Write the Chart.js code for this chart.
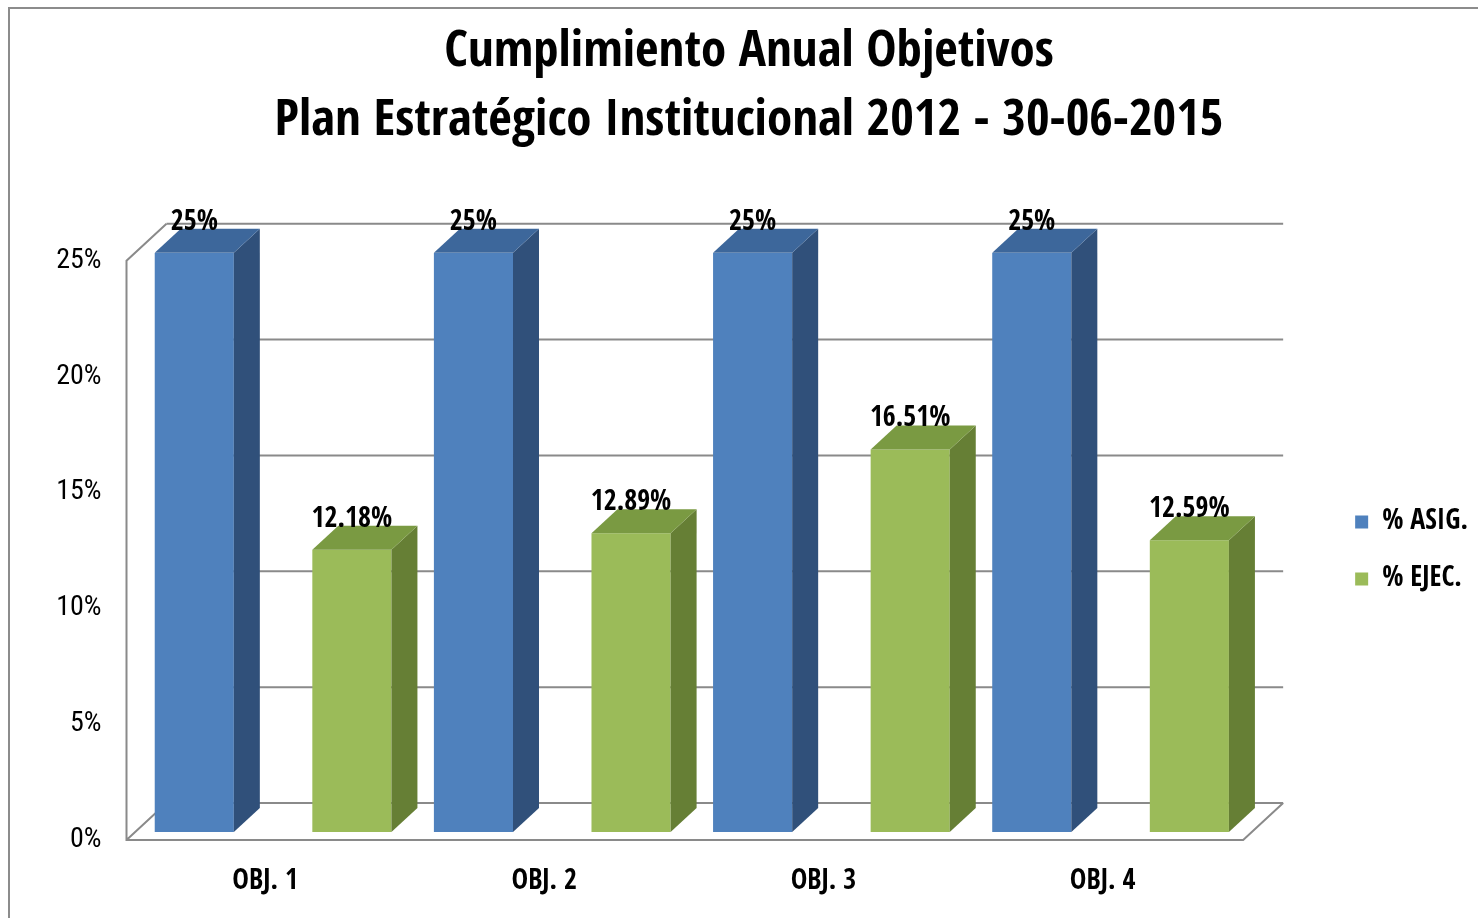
<!DOCTYPE html>
<html>
<head>
<meta charset="utf-8">
<script src="https://cdn.jsdelivr.net/npm/chart.js@4"></script>
<style>
  html, body { margin: 0; padding: 0; background: #fff; }
  #wrap { width: 1478px; height: 918px; }
</style>
</head>
<body>
<div id="wrap"><canvas id="chart" width="1478" height="918"></canvas></div>
<script>
const categories = ['OBJ. 1', 'OBJ. 2', 'OBJ. 3', 'OBJ. 4'];
const asigValues = [25, 25, 25, 25];
const ejecValues = [12.18, 12.89, 16.51, 12.59];
const yTicks = [0, 5, 10, 15, 20, 25];

const FONT = '"Open Sans Condensed", "Roboto Condensed", "Liberation Sans", sans-serif';
const TICK_FONT = '"Roboto Condensed", "Open Sans Condensed", "Liberation Sans", sans-serif';
const gridColor = '#8a8a8a';
// 3D depth of the bars and of the back wall / front plane
const barDepth = { dx: 26, dy: -24 };
const frontShift = { dx: -7, dy: 8 };
const backShift = { dx: 33, dy: -29 };

const faceColors = [
    { top: '#3d679b', side: '#30507a' },
    { top: '#7a9a42', side: '#667f35' }
];

function fmt(v) {
    return (Number.isInteger(v) ? v : v.toFixed(2)) + '%';
}

const threeD = {
    id: 'threeD',
    beforeDraw(chart) {
        const ctx = chart.ctx;
        ctx.save();
        ctx.strokeStyle = '#8c8c8c';
        ctx.lineWidth = 2;
        ctx.beginPath();
        ctx.moveTo(9, 918);
        ctx.lineTo(9, 8);
        ctx.lineTo(1478, 8);
        ctx.stroke();
        ctx.restore();
    },
    beforeDatasetsDraw(chart) {
        const ctx = chart.ctx;
        const y = chart.scales.y;
        const area = chart.chartArea;
        ctx.save();
        ctx.strokeStyle = gridColor;
        ctx.lineWidth = 2;
        // back wall gridlines
        yTicks.forEach(t => {
            const py = y.getPixelForValue(t) + backShift.dy;
            ctx.beginPath();
            ctx.moveTo(area.left + backShift.dx, py);
            ctx.lineTo(area.right + backShift.dx, py);
            ctx.stroke();
        });
        // front axis, floor and side edges
        const fx = area.left + frontShift.dx;
        const fTop = y.getPixelForValue(25) + frontShift.dy;
        const fBot = y.getPixelForValue(0) + frontShift.dy;
        const bx = area.left + backShift.dx;
        const bTop = y.getPixelForValue(25) + backShift.dy;
        const bBot = y.getPixelForValue(0) + backShift.dy;
        const rx = area.right + frontShift.dx;
        const rbx = area.right + backShift.dx;
        ctx.beginPath();
        ctx.moveTo(bx, bTop);
        ctx.lineTo(fx, fTop);
        ctx.lineTo(fx, fBot);
        ctx.lineTo(rx, fBot);
        ctx.lineTo(rbx, bBot);
        ctx.moveTo(fx, fBot);
        ctx.lineTo(bx, bBot);
        ctx.stroke();
        ctx.restore();
    },
    afterDatasetsDraw(chart) {
        const ctx = chart.ctx;
        ctx.save();
        chart.data.datasets.forEach((ds, di) => {
            const meta = chart.getDatasetMeta(di);
            meta.data.forEach((bar, i) => {
                const w = bar.width;
                const l = bar.x - w / 2, r = bar.x + w / 2;
                const t = bar.y, b = bar.base;
                const { dx, dy } = barDepth;
                ctx.fillStyle = faceColors[di].side;
                ctx.beginPath();
                ctx.moveTo(r, t);
                ctx.lineTo(r + dx, t + dy);
                ctx.lineTo(r + dx, b + dy);
                ctx.lineTo(r, b);
                ctx.closePath();
                ctx.fill();
                ctx.fillStyle = faceColors[di].top;
                ctx.beginPath();
                ctx.moveTo(l, t);
                ctx.lineTo(l + dx, t + dy);
                ctx.lineTo(r + dx, t + dy);
                ctx.lineTo(r, t);
                ctx.closePath();
                ctx.fill();
                ctx.fillStyle = '#000';
                ctx.font = 'bold 28px ' + FONT;
                ctx.textAlign = 'center';
                ctx.textBaseline = 'alphabetic';
                ctx.fillText(fmt(ds.data[i]), bar.x, t + dy + 1);
            });
        });
        ctx.restore();
    }
};

new Chart(document.getElementById('chart'), {
    type: 'bar',
    data: {
        labels: categories,
        datasets: [{
            label: '% ASIG.',
            data: asigValues,
            backgroundColor: '#4f81bd',
            borderWidth: 0
        }, {
            label: '% EJEC.',
            data: ejecValues,
            backgroundColor: '#9bbb59',
            borderWidth: 0
        }]
    },
    options: {
        responsive: false,
        animation: false,
        categoryPercentage: 1.129,
        barPercentage: 0.502,
        layout: { padding: { left: 20, right: 0, top: 0, bottom: 0 } },
        plugins: {
            title: {
                display: true,
                text: ['Cumplimiento Anual Objetivos', 'Plan Estratégico Institucional 2012 - 30-06-2015'],
                color: '#000',
                font: { family: FONT, size: 51, weight: 'bold', lineHeight: 1.34 },
                padding: { top: 19, bottom: 97 }
            },
            legend: {
                position: 'right',
                fullSize: false,
                title: { display: true, text: '', padding: 0, font: { size: 13.4 } },
                labels: {
                    boxWidth: 13,
                    boxHeight: 13,
                    padding: 29,
                    color: '#000',
                    font: { family: FONT, size: 28, weight: 'bold' }
                }
            },
            tooltip: { enabled: false }
        },
        scales: {
            x: {
                grid: { display: false },
                border: { display: false },
                ticks: {
                    color: '#000',
                    padding: 25,
                    labelOffset: -8,
                    font: { family: FONT, size: 28, weight: 'bold' }
                },
                afterFit(s) { s.height = 86; }
            },
            y: {
                min: 0,
                max: 25,
                grid: { display: false, drawTicks: false },
                border: { display: false },
                ticks: {
                    stepSize: 5,
                    padding: 32,
                    labelOffset: 8,
                    color: '#000',
                    font: { family: TICK_FONT, size: 28, weight: 'normal' },
                    callback: v => v + '%'
                },
                afterFit(s) { s.width = 113.5; }
            },
            yRight: {
                position: 'right',
                grid: { display: false },
                border: { display: false },
                ticks: { display: false },
                afterFit(s) { s.width = 76; }
            }
        }
    },
    plugins: [threeD]
});
</script>
</body>
</html>
